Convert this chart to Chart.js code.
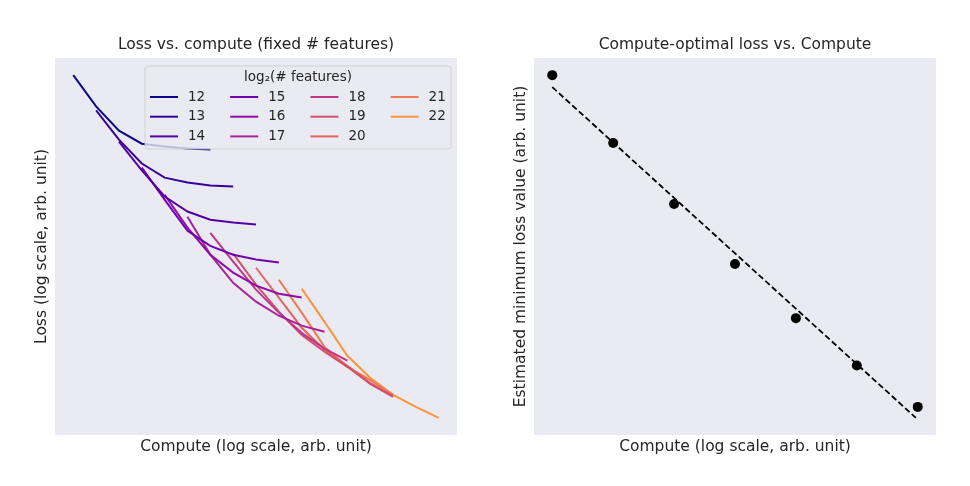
<!DOCTYPE html>
<html>
<head>
<meta charset="utf-8">
<script src="https://cdn.jsdelivr.net/npm/chart.js@4"></script>
<style>
  html, body { margin: 0; padding: 0; background: #ffffff; }
  #wrap { position: relative; width: 970px; height: 486px; }
  canvas { position: absolute; top: 0; }
  #lossChart { left: 0; }
  #optimalChart { left: 485px; }
</style>
</head>
<body>
<div id="wrap">
  <canvas id="lossChart" width="485" height="486"></canvas>
  <canvas id="optimalChart" width="485" height="486"></canvas>
</div>
<script>
// Left panel: loss curves, one per log2(# features); x is compute step (log scale)
const featureLog2 = [12, 13, 14, 15, 16, 17, 18, 19, 20, 21, 22];
const startStep = [0, 1, 2, 3, 4, 5, 6, 7, 8, 9, 10];
const lossCurves = [
  [10.00, 9.09, 8.38, 8.00, 7.92, 7.86, 7.83],
  [8.97, 8.12, 7.42, 7.01, 6.87, 6.78, 6.75],
  [8.06, 7.22, 6.46, 6.02, 5.78, 5.70, 5.64],
  [7.30, 6.37, 5.46, 5.02, 4.76, 4.62, 4.53],
  [6.51, 5.55, 4.76, 4.24, 3.86, 3.62, 3.51],
  [5.87, 4.76, 3.94, 3.39, 2.98, 2.69, 2.51],
  [5.40, 4.56, 3.74, 3.07, 2.48, 2.02, 1.67],
  [4.79, 3.89, 3.10, 2.42, 1.93, 1.49, 0.99, 0.61],
  [4.38, 3.51, 2.63, 1.99, 1.52, 1.02, 0.64],
  [4.03, 3.07, 2.07, 1.49, 1.11, 0.67],
  [3.77, 2.80, 1.81, 1.17, 0.67, 0.32, 0.00]
];
const curveColors = [
  '#0d0887', '#350498', '#5402a3', '#7201a8', '#8f0da4', '#a82296',
  '#be3885', '#d24f71', '#e16462', '#ee7b51', '#f89540'
];

// Right panel: compute-optimal loss and fitted power law
const optimalCompute = [0, 1, 2, 3, 4, 5, 6];
const optimalLoss = [10.00, 8.02, 6.24, 4.49, 2.91, 1.53, 0.32];
const fitCompute = [0, 5.97];
const fitLoss = [9.65, 0.0];

Chart.defaults.font.family = '"DejaVu Sans", sans-serif';
Chart.defaults.font.size = 13;
Chart.defaults.color = '#262626';
Chart.defaults.animation = false;

const plotBackground = {
  id: 'plotBackground',
  beforeDraw(chart) {
    const {ctx, chartArea: a} = chart;
    ctx.save();
    ctx.fillStyle = '#ffffff';
    ctx.fillRect(0, 0, chart.width, chart.height);
    ctx.fillStyle = '#eaeaf2';
    ctx.fillRect(a.left, a.top, a.right - a.left, a.bottom - a.top);
    ctx.restore();
  }
};

// matplotlib-like legend: 4 columns, filled column by column
const columnLegend = {
  id: 'columnLegend',
  afterDatasetsDraw(chart) {
    const {ctx, chartArea: a} = chart;
    const sets = chart.data.datasets;
    const w = 306, h = 83;
    const x0 = a.right - 6 - w, y0 = a.top + 8;
    ctx.save();
    ctx.beginPath();
    ctx.roundRect(x0, y0, w, h, 3);
    ctx.fillStyle = 'rgba(234,234,242,0.8)';
    ctx.fill();
    ctx.strokeStyle = 'rgba(204,204,204,0.8)';
    ctx.lineWidth = 1;
    ctx.stroke();

    ctx.fillStyle = '#262626';
    ctx.font = '13.5px "DejaVu Sans"';
    ctx.textAlign = 'center';
    ctx.textBaseline = 'middle';
    ctx.fillText('log\u2082(# features)', x0 + w / 2, y0 + 11);

    ctx.textAlign = 'left';
    sets.forEach((ds, i) => {
      const col = Math.floor(i / 3), row = i % 3;
      const lx = x0 + 5 + col * 80.2;
      const ly = y0 + 31 + row * 19.7;
      ctx.strokeStyle = ds.borderColor;
      ctx.lineWidth = 2;
      ctx.beginPath();
      ctx.moveTo(lx, ly);
      ctx.lineTo(lx + 28, ly);
      ctx.stroke();
      ctx.fillStyle = '#262626';
      ctx.fillText(ds.label, lx + 38, ly);
    });
    ctx.restore();
  }
};

function hiddenAxis(min, max, text, pad) {
  return {
    type: 'linear', min: min, max: max,
    ticks: {display: false},
    grid: {display: false, drawTicks: false},
    border: {display: false},
    title: {display: true, text: text, color: '#262626', font: {size: 15.5}, padding: pad}
  };
}

new Chart(document.getElementById('lossChart'), {
  type: 'line',
  data: {
    datasets: featureLog2.map((f, i) => ({
      label: String(f),
      data: lossCurves[i].map((v, j) => ({x: startStep[i] + j, y: v})),
      borderColor: curveColors[i],
      borderWidth: 2,
      pointRadius: 0,
      tension: 0
    }))
  },
  options: {
    responsive: false,
    layout: {padding: {left: 32.7, right: 28, top: 35.7, bottom: 29.7}},
    plugins: {
      legend: {display: false},
      tooltip: {enabled: false},
      title: {
        display: true, fullSize: false, color: '#262626',
        text: 'Loss vs. compute (fixed # features)',
        font: {size: 15.5, weight: 'normal'},
        padding: {top: 0, bottom: 3.7}
      }
    },
    scales: {
      x: hiddenAxis(-0.8, 16.8, 'Compute (log scale, arb. unit)', {top: 2.7, bottom: 0}),
      y: hiddenAxis(-0.5, 10.5, 'Loss (log scale, arb. unit)', {top: 0, bottom: 3.7})
    }
  },
  plugins: [plotBackground, columnLegend]
});

new Chart(document.getElementById('optimalChart'), {
  type: 'line',
  data: {
    datasets: [
      {
        label: 'Compute-optimal loss',
        data: optimalCompute.map((c, i) => ({x: c, y: optimalLoss[i]})),
        showLine: false,
        pointRadius: 5,
        pointBackgroundColor: '#000000',
        pointBorderColor: '#000000',
        pointBorderWidth: 0
      },
      {
        label: 'Fit',
        data: fitCompute.map((c, i) => ({x: c, y: fitLoss[i]})),
        borderColor: '#000000',
        borderWidth: 1.8,
        borderDash: [6, 3],
        pointRadius: 0,
        tension: 0
      }
    ]
  },
  options: {
    responsive: false,
    layout: {padding: {left: 26.7, right: 34, top: 35.7, bottom: 29.7}},
    plugins: {
      legend: {display: false},
      tooltip: {enabled: false},
      title: {
        display: true, fullSize: false, color: '#262626',
        text: 'Compute-optimal loss vs. Compute',
        font: {size: 15.5, weight: 'normal'},
        padding: {top: 0, bottom: 3.7}
      }
    },
    scales: {
      x: hiddenAxis(-0.3, 6.3, 'Compute (log scale, arb. unit)', {top: 2.7, bottom: 0}),
      y: hiddenAxis(-0.5, 10.5, 'Estimated minimum loss value (arb. unit)', {top: 0, bottom: 3.7})
    }
  },
  plugins: [plotBackground]
});
</script>
</body>
</html>
